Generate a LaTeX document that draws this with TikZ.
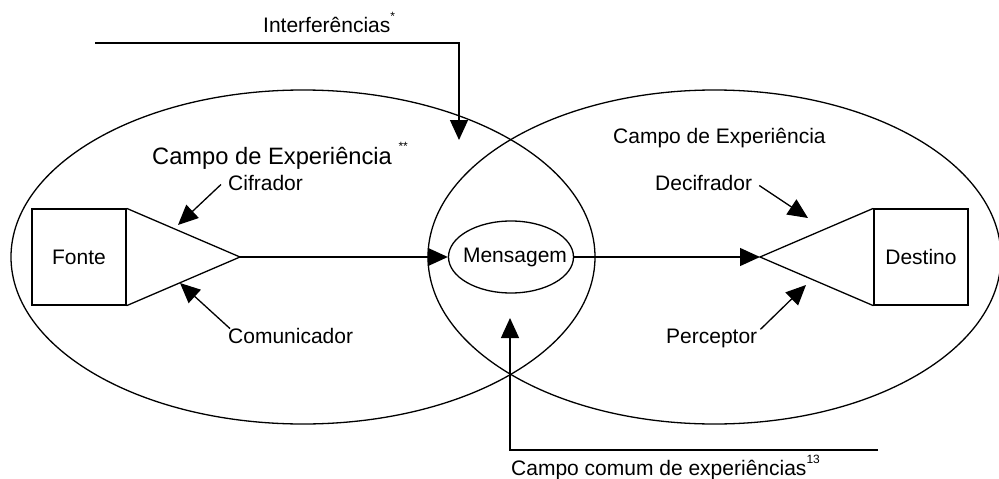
\documentclass[tikz,border=0pt]{standalone}
\usepackage{fontspec}
\setmainfont{Liberation Sans}
\usepackage{tikz}
\usetikzlibrary{shapes, arrows.meta}
\tikzstyle{campo} = [ellipse, 
minimum height=334pt, 
draw=black, 
line width=1.3pt, 
inner sep=0pt]
\tikzstyle{caixa} = [rectangle, 
minimum width=94pt, 
minimum height=96pt, 
text centered, 
draw=black, 
line width=1.3pt, 
font=\fontsize{21}{25}\selectfont]
\tikzstyle{rotulo} = [inner sep=0pt, 
anchor=base west, 
font=\fontsize{21}{25}\selectfont]
\tikzstyle{linha} = [line width=1.3pt]
\tikzstyle{seta} = [line width=1.3pt,-{Triangle[length=20pt,width=18pt]}]
\newcommand{\sobre}[1]{\raisebox{0.55em}{\fontsize{12}{12}\selectfont #1}}

\begin{document}
\begin{tikzpicture}[x=1pt,y=-1pt]
\useasboundingbox (0,0) rectangle (999,479);

% campos de experiencia
\node (campoEsq) [campo, minimum width=584pt] at (303,257) {};
\node (campoDir) [campo, minimum width=573pt] at (714.5,257) {};

\node (tituloEsq) [rotulo, font=\fontsize{23.7}{28}\selectfont] at (152,164) {Campo de Experiência \sobre{**}};
\node (tituloDir) [rotulo] at (613,143) {Campo de Experiência};

% fonte e destino
\node (fonte) [caixa] at (79,257) {Fonte};
\node (destino) [caixa] at (921,257) {Destino};
\coordinate (cifApex) at (240,257);
\coordinate (decApex) at (760,257);
\draw [linha] (fonte.north east) -- (cifApex) -- (fonte.south east);
\draw [linha] (destino.north west) -- (decApex) -- (destino.south west);

\node (mensagem) [ellipse, draw=black, line width=1.3pt, minimum width=125pt, minimum height=72pt, inner xsep=-22pt, inner ysep=0pt, font=\fontsize{21}{25}\selectfont] at (511,257) {\hspace{8pt}Mensagem};

\draw [seta] (cifApex) -- (mensagem.west);
\draw [seta] (mensagem.east) -- (decApex);

% rotulos com setas
\node (cifrador) [rotulo] at (228,190) {Cifrador};
\node (comunic) [rotulo] at (228,343) {Comunicador};
\node (decifr) [rotulo] at (655,190) {Decifrador};
\node (percep) [rotulo] at (666,343) {Perceptor};
\coordinate (cifTip) at (178,225);
\coordinate (comTip) at (180,283);
\coordinate (decTip) at (808,218);
\coordinate (perTip) at (806,285);
\draw [seta] ([xshift=-7pt,yshift=-2pt]cifrador.west) -- (cifTip);
\draw [seta] ([xshift=2pt,yshift=-1pt]comunic.north west) -- (comTip);
\draw [seta] ([xshift=7pt,yshift=-3pt]decifr.east) -- (decTip);
\draw [seta] ([xshift=3pt,yshift=-1pt]percep.north east) -- (perTip);

% interferencias
\node (interf) [rotulo] at (263,32) {Interferências\sobre{*}};
\coordinate (intIni) at (95,43);
\coordinate (intTip) at (459,140);
\draw [seta] (intIni) -| (intTip);

% campo comum
\node (comum) [rotulo] at (511,475) {Campo comum de experiências\sobre{13}};
\coordinate (comumIni) at (878,450);
\coordinate (comumTip) at (510,318);
\draw [seta] (comumIni) -| (comumTip);

\end{tikzpicture}
\end{document}
